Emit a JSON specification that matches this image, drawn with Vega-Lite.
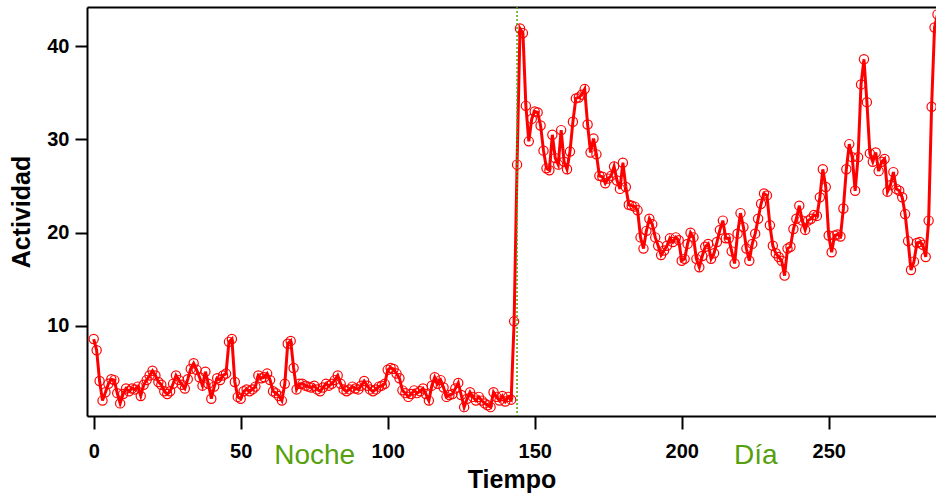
{
"$schema": "https://vega.github.io/schema/vega-lite/v6.json",
"width": 849,
"height": 409,
"autosize": {"type": "none"},
"padding": {"left": 87, "top": 7, "right": 0, "bottom": 79},
"background": "white",
"config": {"view": {"stroke": null}, "font": "Liberation Sans"},
"datasets": {
"act": [
{"t":0,"a":8.6},{"t":1,"a":7.4},{"t":2,"a":4.1},{"t":3,"a":2.0},{"t":4,"a":2.9},{"t":5,"a":3.8},{"t":6,"a":4.3},{"t":7,"a":4.2},{"t":8,"a":2.8},{"t":9,"a":1.7},
{"t":10,"a":2.7},{"t":11,"a":3.3},{"t":12,"a":3.0},{"t":13,"a":3.3},{"t":14,"a":3.2},{"t":15,"a":3.5},{"t":16,"a":2.5},{"t":17,"a":3.7},{"t":18,"a":4.2},{"t":19,"a":4.7},
{"t":20,"a":5.2},{"t":21,"a":4.7},{"t":22,"a":4.0},{"t":23,"a":3.7},{"t":24,"a":3.0},{"t":25,"a":2.7},{"t":26,"a":3.0},{"t":27,"a":3.8},{"t":28,"a":4.7},{"t":29,"a":4.2},
{"t":30,"a":3.7},{"t":31,"a":3.3},{"t":32,"a":4.3},{"t":33,"a":5.4},{"t":34,"a":6.0},{"t":35,"a":5.3},{"t":36,"a":4.5},{"t":37,"a":3.6},{"t":38,"a":5.1},{"t":39,"a":3.8},
{"t":40,"a":2.2},{"t":41,"a":3.5},{"t":42,"a":4.4},{"t":43,"a":4.2},{"t":44,"a":4.7},{"t":45,"a":4.9},{"t":46,"a":8.3},{"t":47,"a":8.6},{"t":48,"a":4.0},{"t":49,"a":2.4},
{"t":50,"a":2.2},{"t":51,"a":3.0},{"t":52,"a":3.2},{"t":53,"a":3.0},{"t":54,"a":3.2},{"t":55,"a":3.5},{"t":56,"a":4.7},{"t":57,"a":4.4},{"t":58,"a":4.5},{"t":59,"a":4.9},
{"t":60,"a":4.2},{"t":61,"a":3.0},{"t":62,"a":2.8},{"t":63,"a":2.5},{"t":64,"a":2.0},{"t":65,"a":3.8},{"t":66,"a":8.1},{"t":67,"a":8.4},{"t":68,"a":5.5},{"t":69,"a":3.2},
{"t":70,"a":3.8},{"t":71,"a":3.8},{"t":72,"a":3.6},{"t":73,"a":3.5},{"t":74,"a":3.4},{"t":75,"a":3.6},{"t":76,"a":3.2},{"t":77,"a":3.0},{"t":78,"a":3.4},{"t":79,"a":3.8},
{"t":80,"a":3.6},{"t":81,"a":3.8},{"t":82,"a":4.2},{"t":83,"a":4.7},{"t":84,"a":3.8},{"t":85,"a":3.2},{"t":86,"a":3.0},{"t":87,"a":3.2},{"t":88,"a":3.5},{"t":89,"a":3.3},
{"t":90,"a":3.2},{"t":91,"a":3.6},{"t":92,"a":4.1},{"t":93,"a":3.6},{"t":94,"a":3.2},{"t":95,"a":3.0},{"t":96,"a":3.2},{"t":97,"a":3.5},{"t":98,"a":3.6},{"t":99,"a":3.8},
{"t":100,"a":5.3},{"t":101,"a":5.5},{"t":102,"a":5.4},{"t":103,"a":4.9},{"t":104,"a":4.4},{"t":105,"a":3.1},{"t":106,"a":2.8},{"t":107,"a":2.4},{"t":108,"a":2.7},{"t":109,"a":3.1},
{"t":110,"a":2.8},{"t":111,"a":3.0},{"t":112,"a":3.3},{"t":113,"a":2.7},{"t":114,"a":2.0},{"t":115,"a":3.6},{"t":116,"a":4.5},{"t":117,"a":3.8},{"t":118,"a":4.2},{"t":119,"a":3.4},
{"t":120,"a":2.4},{"t":121,"a":2.6},{"t":122,"a":2.7},{"t":123,"a":3.3},{"t":124,"a":3.9},{"t":125,"a":2.6},{"t":126,"a":1.3},{"t":127,"a":2.2},{"t":128,"a":2.9},{"t":129,"a":2.4},
{"t":130,"a":2.0},{"t":131,"a":2.4},{"t":132,"a":2.0},{"t":133,"a":1.7},{"t":134,"a":1.5},{"t":135,"a":1.3},{"t":136,"a":2.9},{"t":137,"a":2.4},{"t":138,"a":2.0},{"t":139,"a":2.5},
{"t":140,"a":1.9},{"t":141,"a":2.4},{"t":142,"a":2.1},{"t":143,"a":10.5},{"t":144,"a":27.3},{"t":145,"a":41.9},{"t":146,"a":41.4},{"t":147,"a":33.6},{"t":148,"a":29.8},{"t":149,"a":32.2},
{"t":150,"a":33.0},{"t":151,"a":32.9},{"t":152,"a":31.5},{"t":153,"a":28.8},{"t":154,"a":26.9},{"t":155,"a":26.7},{"t":156,"a":30.5},{"t":157,"a":28.0},{"t":158,"a":27.3},{"t":159,"a":31.0},
{"t":160,"a":27.6},{"t":161,"a":26.8},{"t":162,"a":28.7},{"t":163,"a":31.9},{"t":164,"a":34.4},{"t":165,"a":34.5},{"t":166,"a":34.8},{"t":167,"a":35.4},{"t":168,"a":31.6},{"t":169,"a":28.6},
{"t":170,"a":30.1},{"t":171,"a":28.4},{"t":172,"a":26.1},{"t":173,"a":26.0},{"t":174,"a":25.3},{"t":175,"a":25.8},{"t":176,"a":26.1},{"t":177,"a":27.1},{"t":178,"a":25.6},{"t":179,"a":24.7},
{"t":180,"a":27.5},{"t":181,"a":24.9},{"t":182,"a":23.0},{"t":183,"a":22.9},{"t":184,"a":22.8},{"t":185,"a":22.4},{"t":186,"a":19.5},{"t":187,"a":18.3},{"t":188,"a":20.2},{"t":189,"a":21.5},
{"t":190,"a":20.9},{"t":191,"a":19.5},{"t":192,"a":18.6},{"t":193,"a":17.6},{"t":194,"a":18.1},{"t":195,"a":18.6},{"t":196,"a":19.4},{"t":197,"a":19.0},{"t":198,"a":19.5},{"t":199,"a":19.2},
{"t":200,"a":17.0},{"t":201,"a":17.2},{"t":202,"a":18.8},{"t":203,"a":20.0},{"t":204,"a":19.5},{"t":205,"a":17.2},{"t":206,"a":16.3},{"t":207,"a":17.5},{"t":208,"a":18.5},{"t":209,"a":18.8},
{"t":210,"a":17.2},{"t":211,"a":17.8},{"t":212,"a":19.0},{"t":213,"a":20.3},{"t":214,"a":21.3},{"t":215,"a":19.4},{"t":216,"a":19.4},{"t":217,"a":18.0},{"t":218,"a":16.7},{"t":219,"a":19.9},
{"t":220,"a":22.1},{"t":221,"a":20.6},{"t":222,"a":18.3},{"t":223,"a":17.0},{"t":224,"a":18.8},{"t":225,"a":19.9},{"t":226,"a":21.5},{"t":227,"a":23.1},{"t":228,"a":24.2},{"t":229,"a":24.0},
{"t":230,"a":20.8},{"t":231,"a":18.6},{"t":232,"a":17.8},{"t":233,"a":17.4},{"t":234,"a":17.0},{"t":235,"a":15.4},{"t":236,"a":18.3},{"t":237,"a":18.5},{"t":238,"a":20.4},{"t":239,"a":21.5},
{"t":240,"a":22.9},{"t":241,"a":21.3},{"t":242,"a":20.3},{"t":243,"a":21.3},{"t":244,"a":21.5},{"t":245,"a":21.9},{"t":246,"a":21.8},{"t":247,"a":23.8},{"t":248,"a":26.8},{"t":249,"a":24.9},
{"t":250,"a":19.7},{"t":251,"a":17.9},{"t":252,"a":19.7},{"t":253,"a":19.8},{"t":254,"a":19.6},{"t":255,"a":22.6},{"t":256,"a":26.8},{"t":257,"a":29.5},{"t":258,"a":28.1},{"t":259,"a":24.5},
{"t":260,"a":28.1},{"t":261,"a":35.9},{"t":262,"a":38.6},{"t":263,"a":34.0},{"t":264,"a":28.5},{"t":265,"a":27.6},{"t":266,"a":28.6},{"t":267,"a":26.6},{"t":268,"a":27.6},{"t":269,"a":27.9},
{"t":270,"a":24.4},{"t":271,"a":25.1},{"t":272,"a":26.5},{"t":273,"a":24.7},{"t":274,"a":24.5},{"t":275,"a":23.8},{"t":276,"a":22.0},{"t":277,"a":19.1},{"t":278,"a":16.0},{"t":279,"a":16.9},
{"t":280,"a":18.9},{"t":281,"a":19.0},{"t":282,"a":18.7},{"t":283,"a":17.4},{"t":284,"a":21.3},{"t":285,"a":33.5},{"t":286,"a":42.0},{"t":287,"a":43.4}
],
"marks": [{"t": 144}]
},
"layer": [
{
"data": {"name": "act"},
"mark": {"type": "line", "color": "#ff0000", "strokeWidth": 3, "point": {"filled": false, "size": 85, "strokeWidth": 1.2, "color": "#ff0000"}},
"encoding": {
"x": {"field": "t", "type": "quantitative",
"scale": {"domain": [-2.28, 286.5], "nice": false, "zero": false},
"axis": {"orient": "bottom", "values": [0, 50, 75, 100, 150, 200, 225, 250],
"labelExpr": "datum.value == 75 ? 'Noche' : datum.value == 225 ? 'Día' : datum.label",
"grid": false, "domain": true, "domainColor": "#000000", "domainWidth": 2,
"tickSize": 13, "tickWidth": 2,
"tickColor": {"condition": {"test": "datum.value == 75 || datum.value == 225", "value": "transparent"}, "value": "#000000"},
"labelFont": "Liberation Sans",
"labelFontSize": {"condition": {"test": "datum.value == 75 || datum.value == 225", "value": 28}, "value": 20},
"labelFontWeight": {"condition": {"test": "datum.value == 75 || datum.value == 225", "value": "normal"}, "value": "bold"},
"labelColor": {"condition": {"test": "datum.value == 75 || datum.value == 225", "value": "#55a00c"}, "value": "#000000"},
"labelPadding": 12, "labelFlush": false, "labelOverlap": false,
"title": "Tiempo", "titleFont": "Liberation Sans", "titleFontSize": 25, "titleFontWeight": "bold", "titleColor": "#000000", "titlePadding": -2}},
"y": {"field": "a", "type": "quantitative",
"scale": {"domain": [0.35, 44.2], "nice": false, "zero": false},
"axis": {"values": [10, 20, 30, 40], "grid": false, "domain": true, "domainColor": "#000000", "domainWidth": 2,
"tickSize": 12, "tickWidth": 2, "tickColor": "#000000",
"labelFont": "Liberation Sans", "labelFontSize": 20, "labelFontWeight": "bold", "labelColor": "#000000", "labelPadding": 6,
"title": "Actividad", "titleFont": "Liberation Sans", "titleFontSize": 25, "titleFontWeight": "bold", "titleColor": "#000000", "titlePadding": 12}}
}
},
{
"data": {"name": "marks"},
"mark": {"type": "rule", "color": "#55a00c", "strokeWidth": 1.5, "strokeDash": [2, 2]},
"encoding": {
"x": {"field": "t", "type": "quantitative",
"axis": {"orient": "top", "labels": false, "ticks": false, "domain": true, "domainColor": "#000000", "domainWidth": 2, "grid": false, "title": null}}
}
}
],
"resolve": {"axis": {"x": "independent"}}
}
